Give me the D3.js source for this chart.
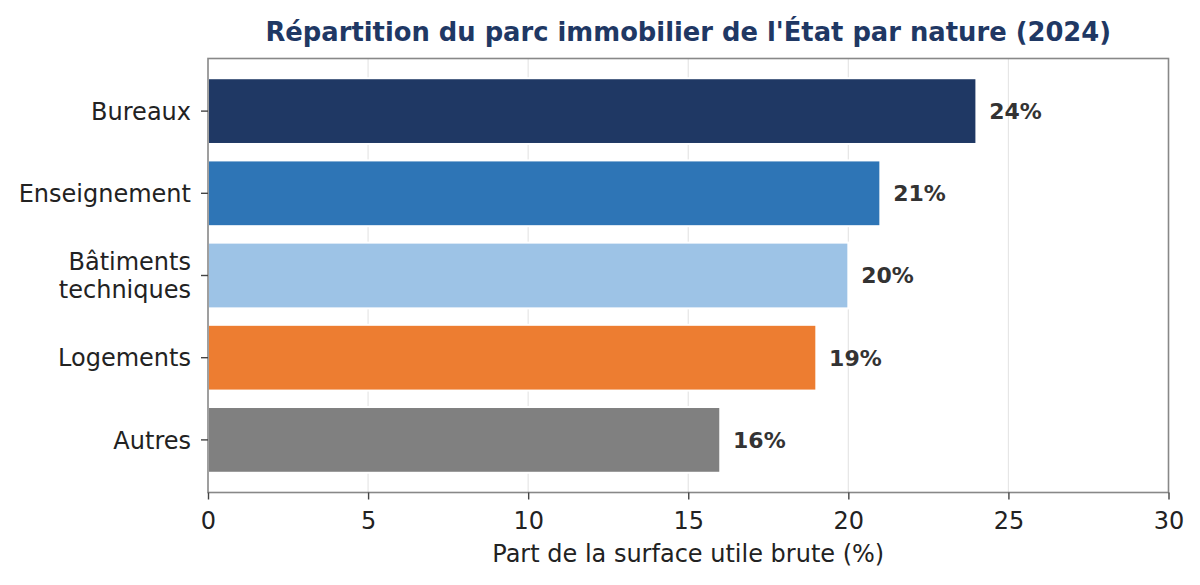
<!DOCTYPE html>
<html>
<head>
<meta charset="utf-8">
<script src="https://cdn.jsdelivr.net/npm/d3@7"></script>
<style>
  body { margin: 0; background: #fff; }
  svg { font-family: "DejaVu Sans", sans-serif; }
</style>
</head>
<body>
<div id="chart"></div>
<script>
// data
var categories = ["Bureaux", "Enseignement", "Bâtiments\ntechniques", "Logements", "Autres"];
var shares = [24, 21, 20, 19, 16];
var barColors = ["#1f3864", "#2e75b6", "#9dc3e6", "#ed7d31", "#808080"];
var xTicks = [0, 5, 10, 15, 20, 25, 30];

var width = 1200, height = 585;
var margin = {top: 58.5, right: 31.5, bottom: 92.5, left: 208};
var innerW = width - margin.left - margin.right;
var innerH = height - margin.top - margin.bottom;

var svg = d3.select("#chart")
    .append("svg")
    .attr("width", width)
    .attr("height", height);

var g = svg.append("g")
    .attr("transform", "translate(" + margin.left + "," + margin.top + ")");

var x = d3.scaleLinear().domain([0, 30]).range([0, innerW]);

// matplotlib-like barh layout: bars of height 0.8, 5% margins
var barH = 0.8;
var lo = -barH / 2, hi = categories.length - 1 + barH / 2;
var pad = (hi - lo) * 0.05;
var y = d3.scaleLinear().domain([lo - pad, hi + pad]).range([0, innerH]);

// grid
g.selectAll(".grid")
    .data(xTicks.slice(1, -1))
    .enter().append("line")
    .attr("x1", function(d){ return x(d); })
    .attr("x2", function(d){ return x(d); })
    .attr("y1", 0)
    .attr("y2", innerH)
    .attr("stroke", "#e6e6e6")
    .attr("stroke-width", 1.2);

// bars
g.selectAll(".bar")
    .data(shares)
    .enter().append("rect")
    .attr("x", x(0))
    .attr("y", function(d, i){ return y(i - barH / 2); })
    .attr("width", function(d){ return x(d) - x(0); })
    .attr("height", y(barH) - y(0))
    .attr("fill", function(d, i){ return barColors[i]; })
    .attr("stroke", "#fff")
    .attr("stroke-width", 2);

// value labels
g.selectAll(".val")
    .data(shares)
    .enter().append("text")
    .attr("x", function(d){ return x(d + 0.4); })
    .attr("y", function(d, i){ return y(i); })
    .attr("dy", "0.36em")
    .attr("font-size", "22px")
    .attr("font-weight", "bold")
    .attr("fill", "#333")
    .text(function(d){ return d + "%"; });

// frame
g.append("rect")
    .attr("width", innerW)
    .attr("height", innerH)
    .attr("fill", "none")
    .attr("stroke", "#888")
    .attr("stroke-width", 1.6);

// x axis
var xAxis = g.append("g")
    .attr("transform", "translate(0," + innerH + ")")
    .call(d3.axisBottom(x).tickValues(xTicks).tickSize(7).tickPadding(12));
xAxis.select(".domain").remove();
xAxis.selectAll("line").attr("stroke", "#444").attr("stroke-width", 1.4);
xAxis.selectAll("text").attr("font-size", "24px").attr("fill", "#222")
    .attr("font-family", "DejaVu Sans");

// y axis ticks + labels
var yt = g.selectAll(".ytick")
    .data(categories)
    .enter().append("g")
    .attr("transform", function(d, i){ return "translate(0," + y(i) + ")"; });
yt.append("line")
    .attr("x1", -7).attr("x2", 0)
    .attr("stroke", "#444").attr("stroke-width", 1.4);
yt.append("text")
    .attr("x", -17)
    .attr("text-anchor", "end")
    .attr("font-size", "24px")
    .attr("fill", "#222")
    .each(function(d){
        var lines = d.split("\n");
        var t = d3.select(this);
        var lh = 28.5;
        var start = -(lines.length - 1) * lh / 2;
        lines.forEach(function(l, k){
            t.append("tspan")
                .attr("x", -17)
                .attr("y", start + k * lh)
                .attr("dy", "0.36em")
                .text(l);
        });
    });

// axis title
svg.append("text")
    .attr("x", margin.left + innerW / 2)
    .attr("y", 562)
    .attr("text-anchor", "middle")
    .attr("font-size", "24px")
    .attr("fill", "#222")
    .text("Part de la surface utile brute (%)");

// chart title
svg.append("text")
    .attr("x", margin.left + innerW / 2)
    .attr("y", 41)
    .attr("text-anchor", "middle")
    .attr("font-size", "25.8px")
    .attr("font-weight", "bold")
    .attr("fill", "#1f3864")
    .text("Répartition du parc immobilier de l'État par nature (2024)");
</script>
</body>
</html>
